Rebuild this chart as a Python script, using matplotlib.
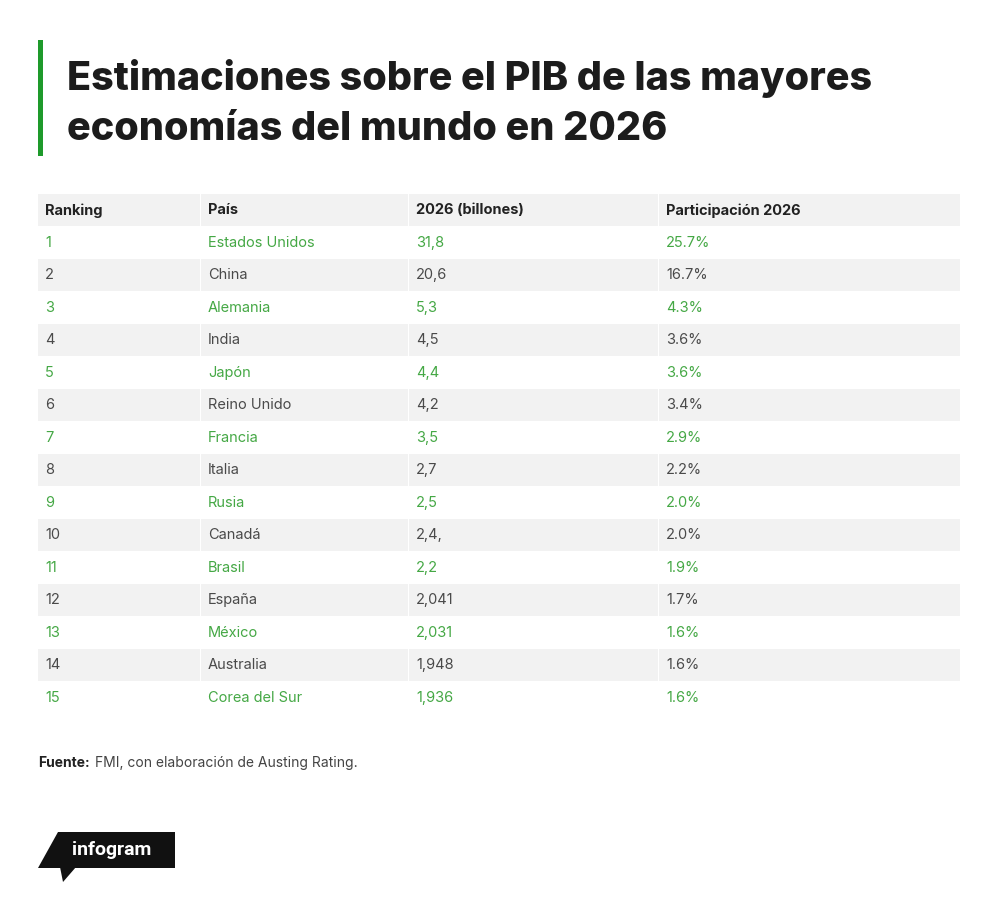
import matplotlib
matplotlib.use("Agg")
import matplotlib.pyplot as plt
from matplotlib.patches import Rectangle, Polygon

plt.rcParams["font.family"] = ["Inter", "DejaVu Sans"]

title_lines = ["Estimaciones sobre el PIB de las mayores",
               "economías del mundo en 2026"]
headers = ["Ranking", "País", "2026 (billones)", "Participación 2026"]
ranking = [str(i) for i in range(1, 16)]
paises = ["Estados Unidos", "China", "Alemania", "India", "Japón", "Reino Unido",
          "Francia", "Italia", "Rusia", "Canadá", "Brasil", "España", "México",
          "Australia", "Corea del Sur"]
pib_2026 = ["31,8", "20,6", "5,3", "4,5", "4,4", "4,2", "3,5", "2,7", "2,5",
            "2,4,", "2,2", "2,041", "2,031", "1,948", "1,936"]
participacion = ["25.7%", "16.7%", "4.3%", "3.6%", "3.6%", "3.4%", "2.9%", "2.2%",
                 "2.0%", "2.0%", "1.9%", "1.7%", "1.6%", "1.6%", "1.6%"]
fuente = "FMI, con elaboración de Austing Rating."

GREEN_BAR = "#1e9a2b"
GREEN_TXT = "#45a845"
DARK = "#4a4a4a"
GRAY_BG = "#f2f2f2"

W, H = 1000, 901
fig = plt.figure(figsize=(W / 100, H / 100), dpi=100)
ax = fig.add_axes([0, 0, 1, 1])
ax.set_xlim(0, W)
ax.set_ylim(H, 0)
ax.axis("off")

# title with green accent bar
ax.add_patch(Rectangle((38, 40), 5, 116, color=GREEN_BAR, lw=0))
for i, line in enumerate(title_lines):
    ax.text(67, 78 + i * 52, line, fontsize=28.5, fontweight="heavy", color="#1c1c1c",
            va="center", ha="left")

# table
col_x = [38, 201, 409, 659]
col_w = [162, 207, 249, 301]
text_pad = 7
top = 194
row_h = 32.5

cols = [ranking, paises, pib_2026, participacion]
n_rows = len(ranking)

# header
for c in range(4):
    ax.add_patch(Rectangle((col_x[c], top), col_w[c], row_h - 1, color=GRAY_BG, lw=0))
    ax.text(col_x[c] + text_pad, top + row_h / 2, headers[c], fontsize=10.5,
            fontweight="bold", color="#222222", va="center", ha="left")

for r in range(n_rows):
    y0 = top + (r + 1) * row_h
    odd = (r % 2 == 0)
    color = GREEN_TXT if odd else DARK
    for c in range(4):
        if not odd:
            ax.add_patch(Rectangle((col_x[c], y0), col_w[c], row_h - 1,
                                   color=GRAY_BG, lw=0))
        ax.text(col_x[c] + text_pad, y0 + row_h / 2, cols[c][r], fontsize=10.5,
                color=color, va="center", ha="left")

# source
t = ax.text(38, 763, "Fuente:", fontsize=10, fontweight="bold", color="#222222",
            va="center", ha="left")
fig.canvas.draw()
bb = t.get_window_extent()
ax.text(38 + bb.width + 5, 763, fuente, fontsize=10, color="#444444",
        va="center", ha="left")

# infogram logo
ax.add_patch(Polygon([(38, 868), (58, 832), (175, 832), (175, 868)],
                     closed=True, color="#111111", lw=0))
ax.add_patch(Polygon([(60, 867), (76, 867), (63, 882)], closed=True,
                     color="#111111", lw=0))
ax.text(112, 850, "infogram", fontsize=14, fontweight="bold", color="white",
        va="center", ha="center", family=["Roboto", "DejaVu Sans"])

fig.savefig("out.png", dpi=100, facecolor="white")
